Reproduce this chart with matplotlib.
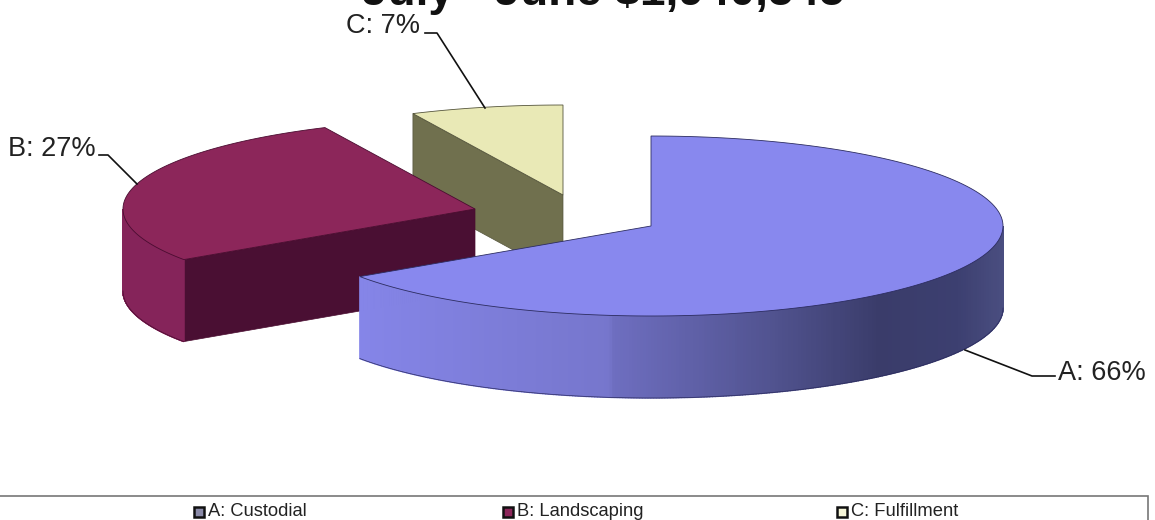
import matplotlib
matplotlib.use('Agg')
import matplotlib.pyplot as plt
from matplotlib.colors import LinearSegmentedColormap
from matplotlib.patches import Polygon, Rectangle
import numpy as np

plt.rcParams['font.family'] = ['Liberation Sans', 'DejaVu Sans']

title = 'July - June $1,940,545'
categories = ['A: Custodial', 'B: Landscaping', 'C: Fulfillment']
short_labels = ['A', 'B', 'C']
shares = [65.5, 27.49, 7.01]

# exploded slice apex in pixels, the ellipse is the same for all three
apex = [(651, 226), (475, 209), (563, 195)]
rx, ry, depth = 352, 90, 82

top_colors = ['#8888ee', '#8c265a', '#e9e9b6']
side_colors = ['#7a7ad6', '#85245a', '#70704e']
cut_colors = ['#3d3f70', '#4a0f33', '#70704e']
edge_colors = ['#2c2c60', '#4a0c30', '#55553c']
legend_colors = ['#8a8aa8', '#8c265a', '#f6f6d8']

leaders = [[(965, 350), (1032, 376), (1055, 376)],
           [(137, 184), (108, 155), (99, 155)],
           [(485, 108), (437, 33), (425, 33)]]
label_pos = [(1058, 373), (8, 149), (346, 26)]
legend_x = [199, 508, 842]

fig = plt.figure(figsize=(11.55, 5.2), dpi=100)
ax = fig.add_axes([0, 0, 1, 1])
ax.set_xlim(0, 1155)
ax.set_ylim(520, 0)
ax.axis('off')


def point(center, angle):
    # angle in degrees, clockwise from 12 o'clock
    a = np.radians(angle)
    return center[0] + rx * np.sin(a), center[1] - ry * np.cos(a)


# rim shading of the big slice, by position between x=360 and x=1003
rim_a = LinearSegmentedColormap.from_list('rim_a', [
    (0.0, '#8585e8'), (0.39, '#7676cc'), (0.395, '#6e6ec0'),
    (0.65, '#50528e'), (0.81, '#3a3c6a'), (0.93, '#3c3f70'), (1.0, '#4a4e80')])

# slice angles come from the shares
ends = np.cumsum(shares) / sum(shares) * 360
starts = np.concatenate([[0], ends[:-1]])

# painter's order: back slice first
for i in [2, 1, 0]:
    c = apex[i]
    t0, t1 = starts[i], ends[i]

    # cut face on the leading edge, the big slice hides its own
    if i > 0:
        p = point(c, t0)
        face = [c, p, (p[0], p[1] + depth), (c[0], c[1] + depth)]
        ax.add_patch(Polygon(face, closed=True, fc=cut_colors[i], ec=edge_colors[i], lw=0.5))

    # outer rim, only the front half shows
    lo, hi = max(t0, 90), min(t1, 270)
    if lo < hi:
        steps = np.linspace(lo, hi, 320)
        for s0, s1 in zip(steps[:-1], steps[1:]):
            a0 = point(c, s0)
            a1 = point(c, s1)
            quad = [a0, a1, (a1[0], a1[1] + depth), (a0[0], a0[1] + depth)]
            if i == 0:
                col = rim_a((a0[0] - 360) / 643)
            else:
                col = side_colors[i]
            ax.add_patch(Polygon(quad, closed=True, fc=col, ec=col, lw=1.0))
        xs = [point(c, s) for s in steps]
        ax.plot([q[0] for q in xs], [q[1] + depth for q in xs], color=edge_colors[i], lw=0.5)

    # top face
    arc = [point(c, s) for s in np.linspace(t0, t1, 160)]
    ax.add_patch(Polygon([c] + arc, closed=True, fc=top_colors[i], ec=edge_colors[i], lw=0.6))

# leader lines and labels
for i in range(3):
    ax.plot([q[0] for q in leaders[i]], [q[1] for q in leaders[i]], color='#111111', lw=1.2)
    ax.text(label_pos[i][0], label_pos[i][1], f'{short_labels[i]}: {shares[i]:.0f}%',
            fontsize=19.5, color='#222222', va='center', ha='left')

# title is cut by the top edge in the reference too
ax.text(603, 5, title, fontsize=33, fontweight='bold', ha='center', va='baseline', color='#111111')

# legend box runs off the bottom edge
ax.add_patch(Rectangle((-2, 496), 1150, 40, fc='white', ec='#777777', lw=1.2))
for i in range(3):
    ax.add_patch(Rectangle((legend_x[i] - 5, 507), 10, 10, fc=legend_colors[i], ec='#111111', lw=1.8))
    ax.text(legend_x[i] + 9, 511, categories[i], fontsize=13.2, color='#222222', va='center', ha='left')

fig.savefig('out.png', dpi=100)
